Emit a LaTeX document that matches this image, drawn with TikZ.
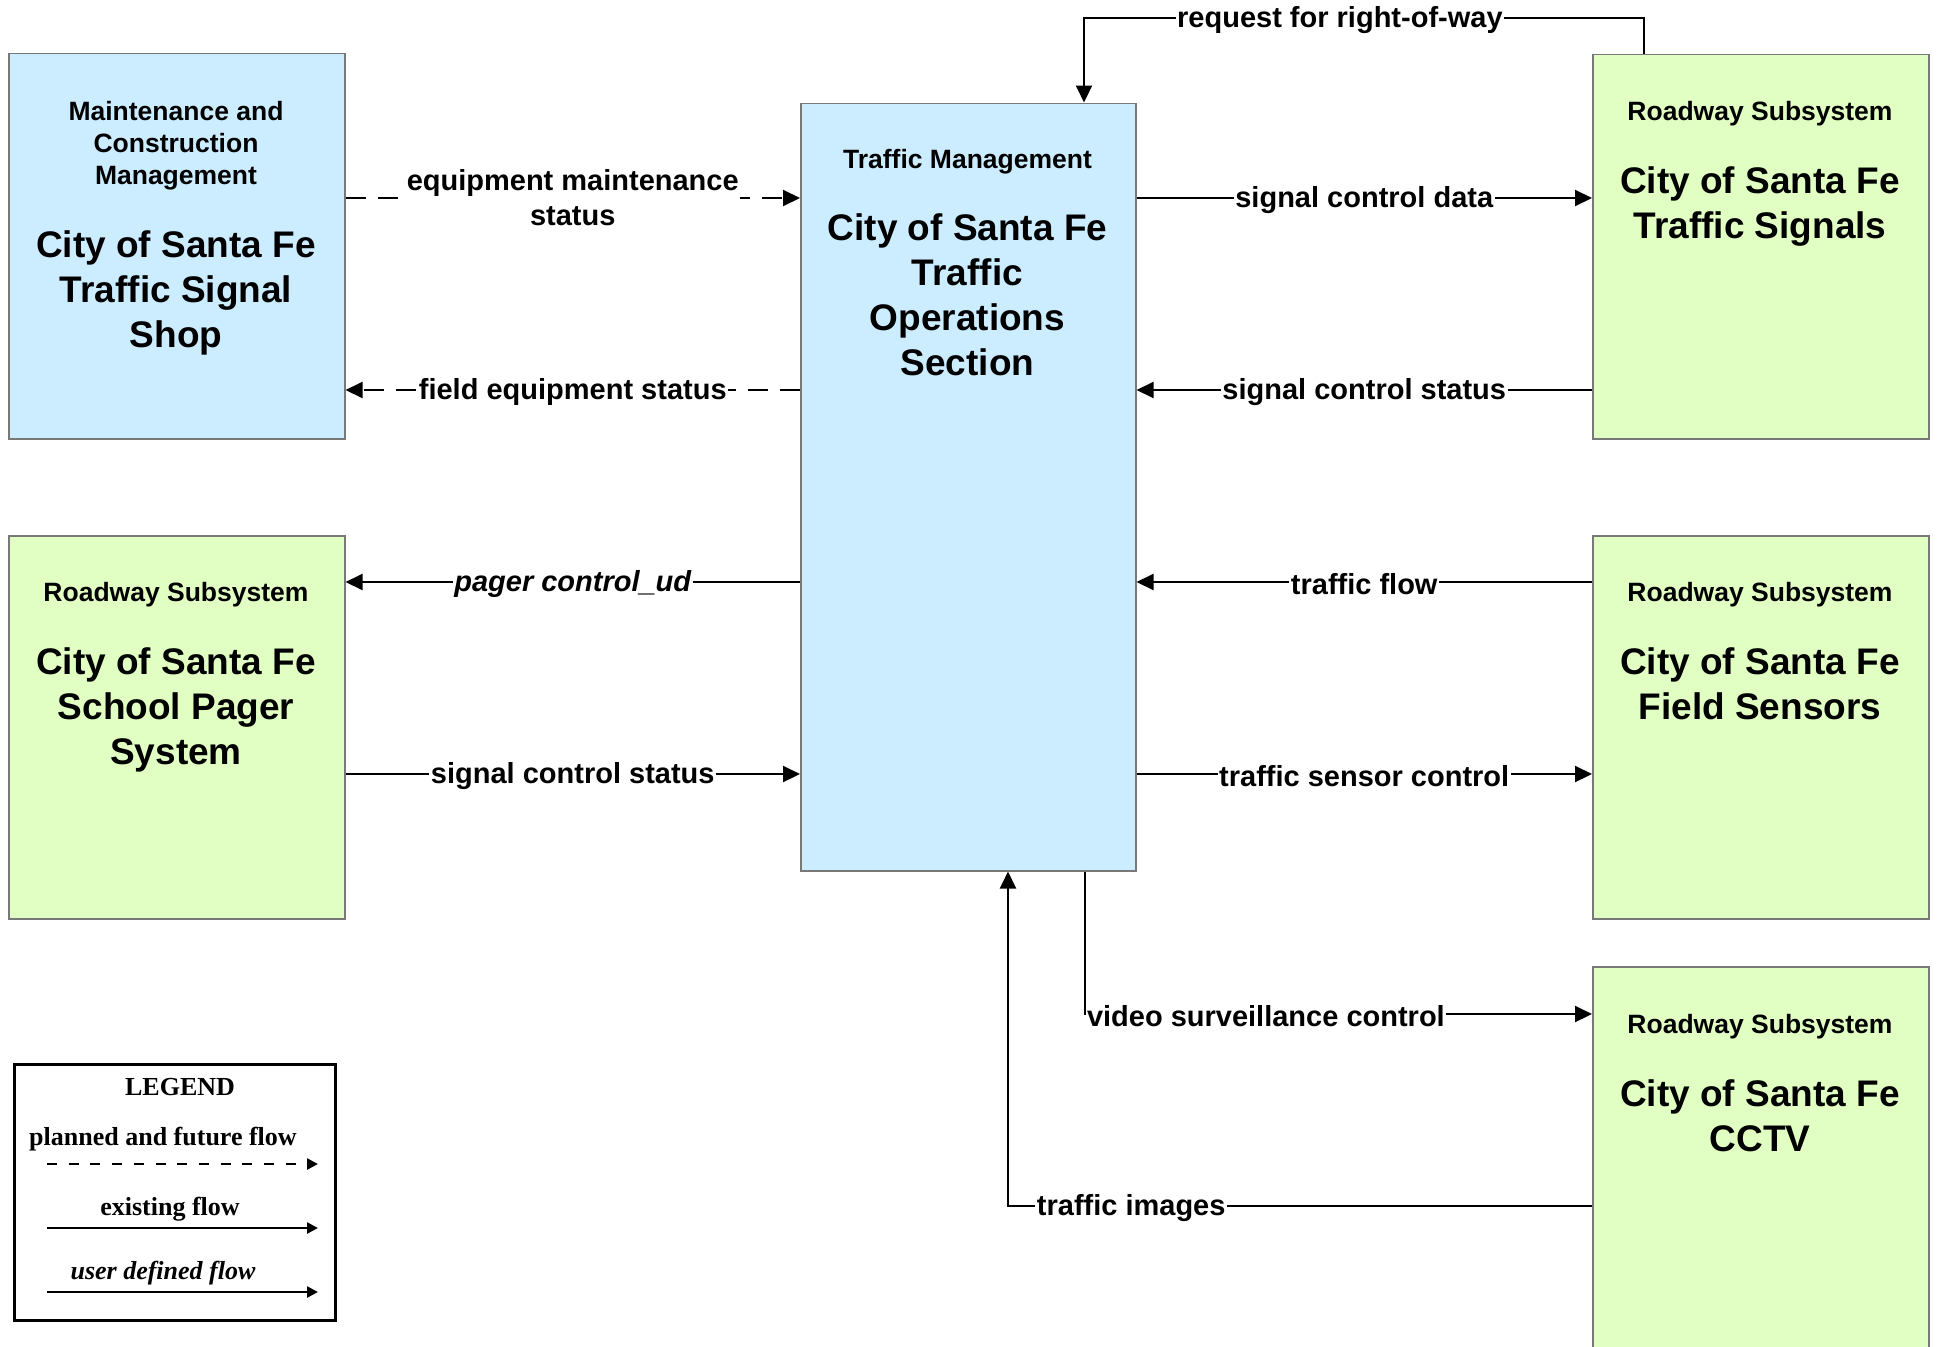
\documentclass[tikz,border=0pt]{standalone}
\usepackage{fontspec}
\setmainfont{Liberation Sans}
\newfontfamily\legendfont{Liberation Serif}
\usetikzlibrary{arrows.meta,calc}
\definecolor{tmblue}{RGB}{204,236,255}
\definecolor{rsgreen}{RGB}{225,255,194}
\definecolor{boxgray}{RGB}{120,120,120}
\tikzset{
  blk/.style={draw=boxgray, line width=1.5pt, inner sep=0pt, anchor=north west, minimum width=336pt},
  bluebox/.style={blk, fill=tmblue},
  greenbox/.style={blk, fill=rsgreen},
  subttl/.style={font=\fontsize{26.5}{32}\selectfont\bfseries, align=center, inner sep=0pt, anchor=base},
  bigttl/.style={font=\fontsize{37}{45}\selectfont\bfseries, align=center, inner sep=0pt, anchor=base},
  flow/.style={line width=2pt, -{Triangle[length=17pt,width=16pt]}},
  planned/.style={flow, dash pattern=on 20pt off 12pt},
  lbl/.style={font=\fontsize{29}{35}\selectfont\bfseries, fill=white, inner sep=1.5pt, align=center, yshift=-2pt},
  legtxt/.style={font=\fontsize{26}{30}\selectfont\legendfont\bfseries, inner sep=0pt, anchor=base},
  legflow/.style={line width=2.5pt, -{Triangle[length=11pt,width=11pt]}},
}
\begin{document}
\begin{tikzpicture}[x=1pt,y=-1pt]
\useasboundingbox (0,0) rectangle (1937,1346);
% boxes
\node[bluebox, minimum height=385pt] (maint) at (8,53) {};
\node[bluebox, minimum width=335pt, minimum height=767.5pt] (tm) at (800,102.5) {};
\node[greenbox, minimum height=384pt] (sig) at (1592,54) {};
\node[greenbox, minimum height=383pt] (pager) at (8,535) {};
\node[greenbox, minimum height=383pt] (sens) at (1592,535) {};
\begin{scope}
\clip (0,0) rectangle (1937,1346);
\node[greenbox, minimum height=400pt] (cctv) at (1592,966) {};
\end{scope}
% box texts (anchor = baseline of the last line)
\node[subttl] (maintsub) at (176,184) {Maintenance and\\Construction\\Management};
\node[bigttl] (maintname) at (176,347) {City of Santa Fe\\Traffic Signal\\Shop};
\node[subttl] (tmsub) at (967.5,168) {Traffic Management};
\node[bigttl] (tmname) at (967.5,375) {City of Santa Fe\\Traffic\\Operations\\Section};
\node[subttl] (sigsub) at (1760,120) {Roadway Subsystem};
\node[bigttl] (signame) at (1760,238) {City of Santa Fe\\Traffic Signals};
\node[subttl] (pagersub) at (176,601) {Roadway Subsystem};
\node[bigttl] (pagername) at (176,764) {City of Santa Fe\\School Pager\\System};
\node[subttl] (senssub) at (1760,601) {Roadway Subsystem};
\node[bigttl] (sensname) at (1760,719) {City of Santa Fe\\Field Sensors};
\node[subttl] (cctvsub) at (1760,1033) {Roadway Subsystem};
\node[bigttl] (cctvname) at (1760,1151) {City of Santa Fe\\CCTV};
% rows
\coordinate (r1) at (0,198);
\coordinate (r2) at (0,390);
\coordinate (r3) at (0,582);
\coordinate (r4) at (0,774);
% left flows
\draw[planned] (maint.east |- r1) -- node[lbl, yshift=2pt]{equipment maintenance\\status} (tm.west |- r1);
\draw[planned] (tm.west |- r2) -- node[lbl]{field equipment status} (maint.east |- r2);
\draw[flow] (tm.west |- r3) -- node[lbl]{\itshape pager control\_ud} (pager.east |- r3);
\draw[flow] (pager.east |- r4) -- node[lbl]{signal control status} (tm.west |- r4);
% right flows
\draw[flow] (tm.east |- r1) -- node[lbl]{signal control data} (sig.west |- r1);
\draw[flow] (sig.west |- r2) -- node[lbl]{signal control status} (tm.east |- r2);
\draw[flow] (sens.west |- r3) -- node[lbl]{traffic flow} (tm.east |- r3);
\draw[flow] (tm.east |- r4) -- node[lbl]{traffic sensor control} (sens.west |- r4);
% request for right-of-way
\coordinate (rq1) at (1644,18.5);
\coordinate (rq2) at (1084,18.5);
\draw[flow] (sig.north -| rq1) -- (rq1) -- node[lbl, pos=0.543]{request for right-of-way} (rq2) -- (tm.north -| rq2);
% video surveillance control
\coordinate (vs) at (1085,1014);
\draw[flow] (tm.south -| vs) -- (vs) node[lbl, anchor=west, inner sep=1pt]{video surveillance control} -- (cctv.west |- vs);
% traffic images
\coordinate (ti) at (1008,1206);
\draw[flow] (cctv.west |- ti) -- node[lbl, pos=0.789]{traffic images} (ti) -- (tm.south -| ti);
% legend
\node[draw=black, line width=3pt, anchor=north west, minimum width=321pt, minimum height=256pt, inner sep=0pt] (legend) at (13,1063) {};
\node[legtxt] (legtitle) at (180,1095) {LEGEND};
\node[legtxt] (legplanned) at (163,1145) {planned and future flow};
\coordinate (lp1) at (47,1164);
\coordinate (lp2) at (318,1164);
\draw[legflow, dash pattern=on 10pt off 11.7pt] (lp1) -- (lp2);
\node[legtxt] (legexist) at (170,1215) {existing flow};
\coordinate (le1) at (47,1228);
\coordinate (le2) at (318,1228);
\draw[legflow] (le1) -- (le2);
\node[legtxt] (leguser) at (163,1279) {\itshape user defined flow};
\coordinate (lu1) at (47,1292);
\coordinate (lu2) at (318,1292);
\draw[legflow] (lu1) -- (lu2);
\end{tikzpicture}
\end{document}
